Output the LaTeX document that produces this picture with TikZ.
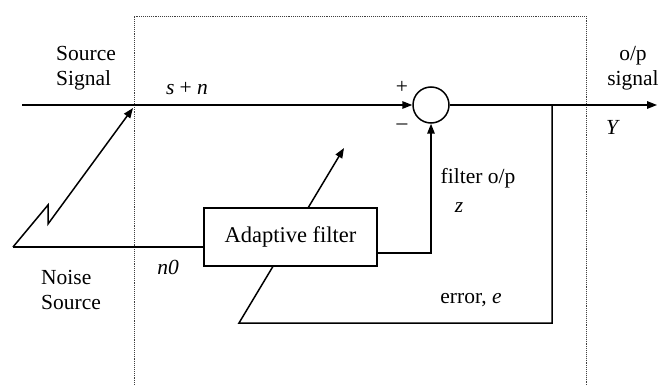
\documentclass[tikz,border=0pt]{standalone}
\usepackage{fontspec}
\setmainfont{Liberation Serif}
\usetikzlibrary{arrows.meta,positioning}

\begin{document}
\begin{tikzpicture}[x=1pt,y=-1pt,
      line width=1.5pt,
      box/.style={draw,fill=white,minimum width=173pt,minimum height=58pt,
                  inner sep=0pt,font=\fontsize{22.5}{25}\selectfont},
      junc/.style={draw,circle,minimum size=36pt,inner sep=0pt},
      lbl/.style={inner sep=0pt,font=\fontsize{21.5}{25}\selectfont},
      >={Triangle[length=10pt,width=7.5pt]}]
    \useasboundingbox (0,0) rectangle (669,385);
    % dotted frame
    \draw[densely dotted,line width=0.9pt,black!75] (134,385) |- (586,16) -- (586,385);
    % points
    \coordinate (src)  at (22,105);
    \coordinate (out)  at (657,105);
    \coordinate (tap)  at (552,105);
    \coordinate (errl) at (239,323);
    \coordinate (adj)  at (344,148);
    \coordinate (nin)  at (13,247);
    \coordinate (zigA) at (48,205);
    \coordinate (zigB) at (48,224);
    \coordinate (ntip) at (133,108);
    \node[junc] (sum) at (431,105) {};
    % error feedback, behind the filter box
    \draw[->] (tap) |- (errl) -- (adj);
    \node[box] (filt) at (290.5,237) {Adaptive filter};
    \draw[->] (src) -- (sum.west);
    \draw[->] (sum.east) -- (out);
    \draw (nin) -- ([yshift=-10pt]filt.west);
    \draw[->] ([yshift=-16pt]filt.east) -| (sum.south);
    \draw[->] (nin) -- (zigA) -- (zigB) -- (ntip);
    % labels
    \node[lbl,align=left] (srclbl) at (86,68) {Source\\Signal};
    \node[lbl] (sn) at (187,89) {\textit{s} + \textit{n}};
    \node[lbl] (plus) at (402,87) {+};
    \node[lbl] (minus) at (402,127) {\textendash};
    \node[lbl,align=center] (oplbl) at (633,68) {o/p\\signal};
    \node[lbl] (ylbl) at (613,127) {\textit{Y}};
    \node[lbl] (fo) at (478,178) {filter o/p};
    \node[lbl] (zlbl) at (459,208) {\textit{z}};
    \node[lbl] (err) at (471,300) {error, \textit{e}};
    \node[lbl,align=left] (nslbl) at (71,290) {Noise\\Source};
    \node[lbl] (nz) at (168,267) {\textit{n0}};
  \end{tikzpicture}
\end{document}
